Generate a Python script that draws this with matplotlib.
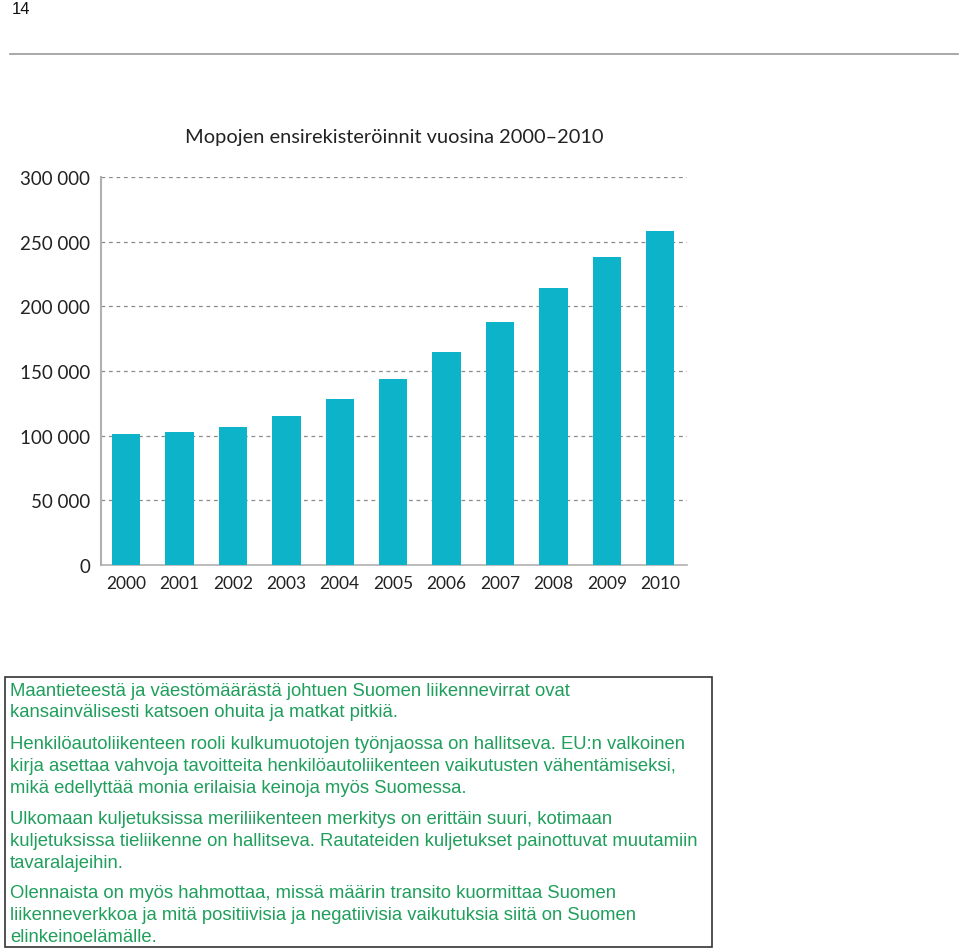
import numpy as np
import matplotlib.pyplot as plt
from matplotlib.patches import Rectangle


years = ["2000", "2001", "2002", "2003", "2004", "2005",
         "2006", "2007", "2008", "2009", "2010"]
registrations = [101000, 103000, 107000, 115000, 128500, 144000,
                 164500, 188000, 214500, 238000, 258000]
y_ticks = [0, 50000, 100000, 150000, 200000, 250000, 300000]
y_tick_labels = ["0", "50 000", "100 000", "150 000", "200 000",
                 "250 000", "300 000"]

title = "Mopojen ensirekisteröinnit vuosina 2000–2010"
paragraphs = [
    ["Maantieteestä ja väestömäärästä johtuen Suomen liikennevirrat ovat",
     "kansainvälisesti katsoen ohuita ja matkat pitkiä."],
    ["Henkilöautoliikenteen rooli kulkumuotojen työnjaossa on hallitseva. EU:n valkoinen",
     "kirja asettaa vahvoja tavoitteita henkilöautoliikenteen vaikutusten vähentämiseksi,",
     "mikä edellyttää monia erilaisia keinoja myös Suomessa."],
    ["Ulkomaan kuljetuksissa meriliikenteen merkitys on erittäin suuri, kotimaan",
     "kuljetuksissa tieliikenne on hallitseva. Rautateiden kuljetukset painottuvat muutamiin",
     "tavaralajeihin."],
    ["Olennaista on myös hahmottaa, missä määrin transito kuormittaa Suomen",
     "liikenneverkkoa ja mitä positiivisia ja negatiivisia vaikutuksia siitä on Suomen",
     "elinkeinoelämälle."],
]

BAR_COLOR = "#0db3c9"
TEXT_GREEN = "#1f9e5c"
W, H = 960, 953

fig = plt.figure(figsize=(W / 100, H / 100), dpi=100)

# page header
fig.text(12 / W, 1 - 9 / H, "14", fontsize=12, family="Liberation Sans",
         va="center", ha="left", color="#111111")
fig.add_artist(plt.Line2D([10 / W, 958 / W], [1 - 55 / H, 1 - 55 / H],
                          color="#999999", lw=1.2))

# chart
ax = fig.add_axes([101 / W, 1 - 566 / H, 586 / W, 388 / H])
x = np.arange(len(years))
ax.bar(x, registrations, width=0.53, color=BAR_COLOR, zorder=3)
ax.set_xlim(-0.47, 10.5)
ax.set_ylim(0, 300000)
ax.set_yticks(y_ticks)
ax.set_yticklabels(y_tick_labels)
ax.set_xticks(x)
ax.set_xticklabels(years)
for val in y_ticks[1:]:
    ax.axhline(val, color="#8a8a8a", lw=0.9, ls=(0, (3, 3)), zorder=1)
for side in ["top", "right"]:
    ax.spines[side].set_visible(False)
ax.spines["left"].set_color("#b0b0b0")
ax.spines["bottom"].set_color("#b0b0b0")
ax.spines["left"].set_linewidth(1.5)
ax.spines["bottom"].set_linewidth(1.2)
ax.tick_params(axis="both", length=0, colors="#222222")
ax.tick_params(axis="y", pad=8, labelsize=13.5)
ax.tick_params(axis="x", pad=7, labelsize=12.5)
for lab in ax.get_xticklabels() + ax.get_yticklabels():
    lab.set_family("Lato")

fig.text(394 / W, 1 - 137 / H, title, fontsize=14.4, family="Lato",
         ha="center", va="center", color="#222222")

# text box
fig.add_artist(Rectangle((5 / W, 1 - 948 / H), 707 / W, 270 / H,
                         transform=fig.transFigure, fill=False,
                         edgecolor="#333333", lw=1.2))
first_lines = [691, 745, 820, 894]
for top, lines in zip(first_lines, paragraphs):
    for i, line in enumerate(lines):
        fig.text(10 / W, 1 - (top + 21.7 * i) / H, line, fontsize=13.3,
                 family="Liberation Sans", color=TEXT_GREEN, ha="left",
                 va="center")

fig.savefig("out.png", dpi=100)
